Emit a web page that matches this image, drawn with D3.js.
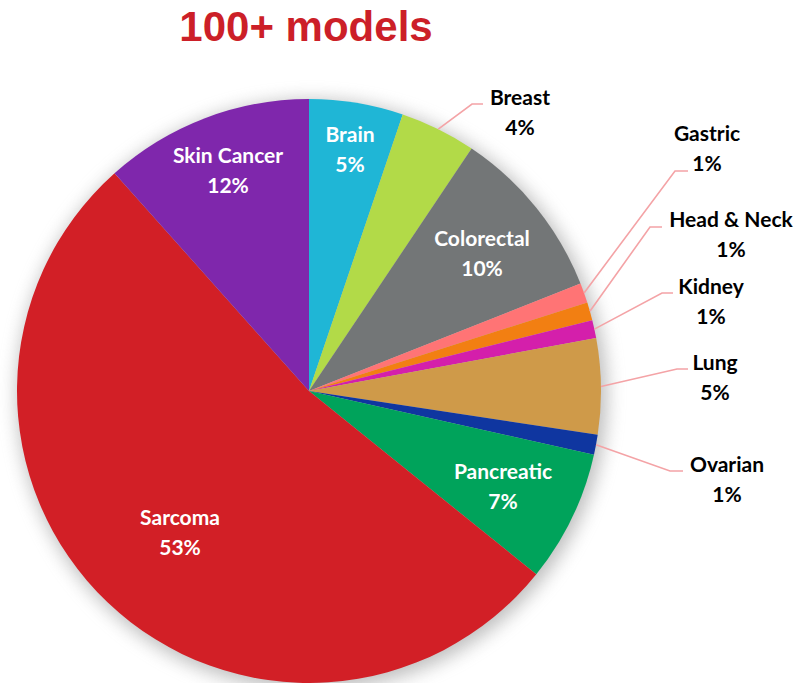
<!DOCTYPE html>
<html>
<head>
<meta charset="utf-8">
<script src="https://cdn.jsdelivr.net/npm/d3@7"></script>
<style>
  html, body { margin: 0; padding: 0; background: #ffffff; }
  svg { display: block; }
</style>
</head>
<body>
<svg id="chart" width="803" height="683"></svg>
<script>
// Share of models per cancer type (percent)
const categories = ["Brain", "Breast", "Colorectal", "Gastric", "Head & Neck", "Kidney",
                    "Lung", "Ovarian", "Pancreatic", "Sarcoma", "Skin Cancer"];
const shares = [5.2, 4.2, 9.6, 1.1, 1.0, 1.0, 5.3, 1.1, 7.3, 52.6, 11.6];
const colors = ["#1fb6d6", "#b2da48", "#737677", "#ff7475", "#f27f12", "#d41fab",
                "#cf9a49", "#0f36a0", "#00a35b", "#d21f26", "#7f27ac"];
const titleText = "100+ models";

// Label placement: inside labels sit on the slice, outside ones get a leader line
const labelLayout = {
  "Brain":       { inside: true,  x: 350, y: 142 },
  "Breast":      { inside: false, x: 520, y: 105, elbow: [472, 104], end: 483 },
  "Colorectal":  { inside: true,  x: 482, y: 246 },
  "Gastric":     { inside: false, x: 707, y: 141, elbow: [675, 171], end: 688 },
  "Head & Neck": { inside: false, x: 731, y: 227, elbow: [650, 227], end: 662 },
  "Kidney":      { inside: false, x: 711, y: 294, elbow: [662, 293], end: 673 },
  "Lung":        { inside: false, x: 715, y: 370, elbow: [677, 369], end: 688 },
  "Ovarian":     { inside: false, x: 727, y: 472, elbow: [670, 471], end: 683 },
  "Pancreatic":  { inside: true,  x: 503, y: 479 },
  "Sarcoma":     { inside: true,  x: 180, y: 525 },
  "Skin Cancer": { inside: true,  x: 228, y: 163 }
};

const svg = d3.select("#chart");
const cx = 309, cy = 391, radius = 292;
const lineGap = 30;

const data = categories.map((c, i) => ({ name: c, value: shares[i], color: colors[i] }));

// Title
svg.append("text")
  .attr("x", 306).attr("y", 41)
  .attr("text-anchor", "middle")
  .attr("font-family", "'Liberation Sans', Arial, sans-serif")
  .attr("font-weight", "bold")
  .attr("font-size", 42)
  .attr("fill", "#cc1f28")
  .text(titleText);

// Soft shadow behind the pie
const defs = svg.append("defs");
const blur = defs.append("filter").attr("id", "pieShadow")
  .attr("x", "-20%").attr("y", "-20%").attr("width", "140%").attr("height", "140%");
blur.append("feGaussianBlur").attr("stdDeviation", 9);

const g = svg.append("g").attr("transform", `translate(${cx},${cy})`);

g.append("circle")
  .attr("cx", 3).attr("cy", 4).attr("r", radius + 3)
  .attr("fill", "#8a8a8a")
  .attr("opacity", 0.55)
  .attr("filter", "url(#pieShadow)");

const pie = d3.pie().sort(null).value(d => d.value);
const arcs = pie(data);
const arc = d3.arc().innerRadius(0).outerRadius(radius);

g.selectAll("path.slice")
  .data(arcs)
  .join("path")
  .attr("class", "slice")
  .attr("d", arc)
  .attr("fill", d => d.data.color);

// Leader lines from slice edge to label
const edgePoint = d => {
  const a = (d.startAngle + d.endAngle) / 2;
  return [cx + radius * Math.sin(a), cy - radius * Math.cos(a)];
};

svg.append("g")
  .selectAll("polyline")
  .data(arcs.filter(d => !labelLayout[d.data.name].inside))
  .join("polyline")
  .attr("points", d => {
    const L = labelLayout[d.data.name];
    const p0 = edgePoint(d);
    return [p0, L.elbow, [L.end, L.elbow[1]]].map(p => p.join(",")).join(" ");
  })
  .attr("fill", "none")
  .attr("stroke", "#f4a3a6")
  .attr("stroke-width", 1.6);

// Category and percentage labels
const fmt = v => Math.round(v) + "%";
const labels = svg.append("g")
  .selectAll("text")
  .data(arcs)
  .join("text")
  .attr("text-anchor", "middle")
  .attr("font-family", "Lato, 'Open Sans', sans-serif")
  .attr("font-weight", "bold")
  .attr("font-size", 21)
  .attr("fill", d => labelLayout[d.data.name].inside ? "#ffffff" : "#000000");

labels.append("tspan")
  .attr("x", d => labelLayout[d.data.name].x)
  .attr("y", d => labelLayout[d.data.name].y)
  .text(d => d.data.name);

labels.append("tspan")
  .attr("x", d => labelLayout[d.data.name].x)
  .attr("y", d => labelLayout[d.data.name].y + lineGap)
  .text(d => fmt(d.data.value));
</script>
</body>
</html>
